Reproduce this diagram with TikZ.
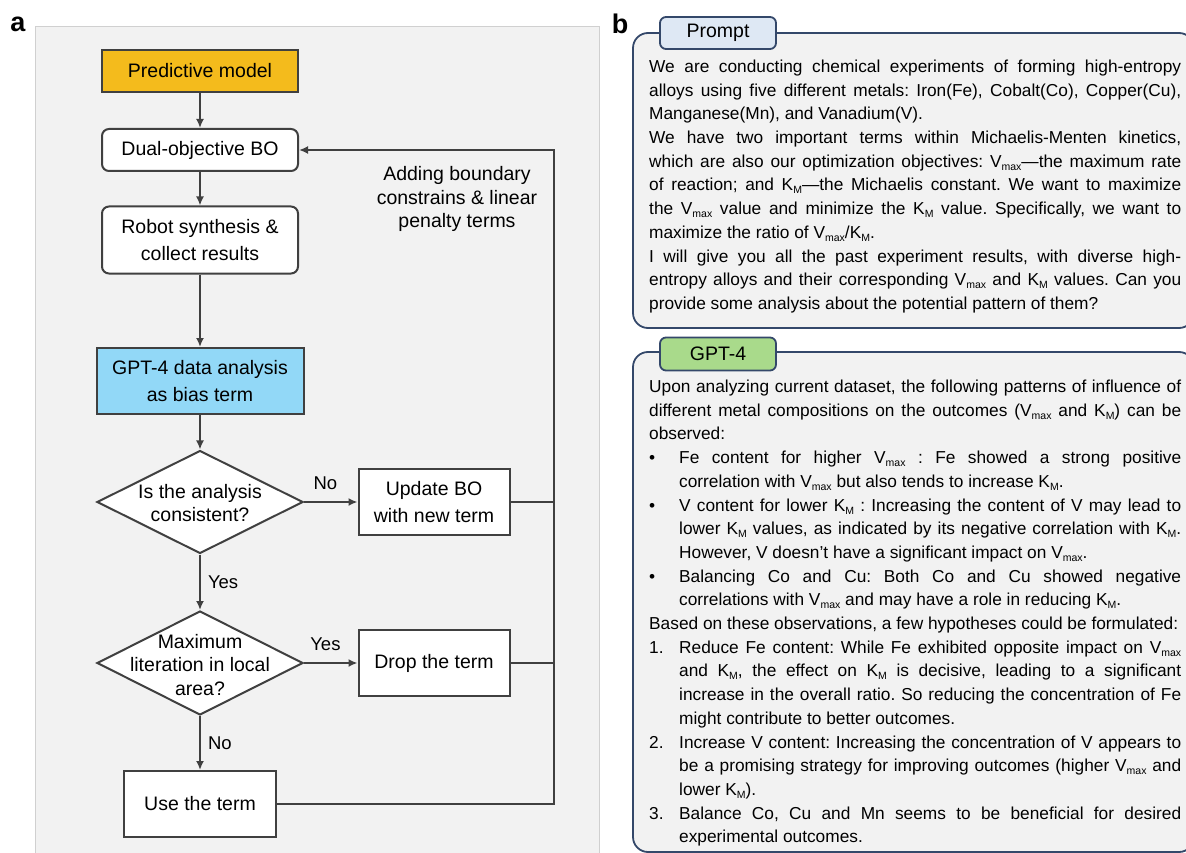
\documentclass[tikz,border=0pt]{standalone}
\usepackage{fontspec}
\setmainfont{Liberation Sans}
\usetikzlibrary{shapes.geometric,arrows.meta}

\definecolor{lineGray}{HTML}{404040}
\definecolor{panelGray}{HTML}{F2F2F2}
\definecolor{borderGray}{HTML}{D0D0D0}
\definecolor{modelGold}{HTML}{F4BB1C}
\definecolor{gptBlue}{HTML}{92D8F7}
\definecolor{tabBlue}{HTML}{DEE8F4}
\definecolor{tabGreen}{HTML}{A9DA8B}
\definecolor{frameNavy}{HTML}{34486A}

\newcommand{\subText}[1]{\raisebox{-3pt}{\fontsize{10.5}{10}\selectfont #1}}
\newcommand{\Vmax}{V\subText{max}}
\newcommand{\KM}{K\subText{M}}

\begin{document}
\begin{tikzpicture}[%%
  x=1pt,y=-1pt,%%
  boxStyle/.style={draw=lineGray,line width=2pt,fill=white,inner sep=0pt,%%
    align=center,font={\fontsize{19.5}{27}\selectfont}},%%
  roundStyle/.style={boxStyle,rounded corners=7pt},%%
  decisionStyle/.style={diamond,draw=lineGray,line width=2pt,fill=white,%%
    inner sep=0pt,minimum width=206pt,minimum height=103pt},%%
  decisionText/.style={align=center,inner sep=0pt,font={\fontsize{19.5}{23.5}\selectfont}},%%
  arrowStyle/.style={-{Latex[length=9pt,width=8pt]},line width=2pt,draw=lineGray},%%
  lineStyle/.style={-,line width=2pt,draw=lineGray},%%
  labelStyle/.style={inner sep=0pt,font={\fontsize{18.5}{22}\selectfont}},%%
  panelStyle/.style={draw=frameNavy,line width=1.8pt,fill=panelGray,rounded corners=15pt},%%
  tabStyle/.style={draw=frameNavy,line width=1.8pt,rounded corners=6pt,minimum width=116pt,%%
    inner sep=0pt,font={\fontsize{19.5}{23}\selectfont}},%%
  textStyle/.style={text width=532pt,align=justify,inner sep=0pt,anchor=base west,%%
    font={\fontsize{17.3}{23.7}\selectfont\frenchspacing\hyphenpenalty=10000\exhyphenpenalty=10000\tolerance=9999}}%%
]
%%
\useasboundingbox (0,0) rectangle (1186,853);
\clip (0,0) rectangle (1186,853);
%%
%% Panel a: the background.
\draw[fill=panelGray,draw=borderGray,line width=0.8pt] (35,26) rectangle (599,870);
\node[font={\fontsize{27}{30}\selectfont\bfseries}] (labelA) at (18,24) {a};
%%
%% The boxes of the loop.
\node[boxStyle,fill=modelGold,minimum width=196pt,minimum height=42pt] (pred) at (200,71) {Predictive model};
\node[roundStyle,minimum width=196pt,minimum height=42pt] (dual) at (200,150) {Dual-objective BO};
\node[roundStyle,minimum width=196pt,minimum height=67pt] (robot) at (200,240) {Robot synthesis \&\\collect results};
\node[boxStyle,fill=gptBlue,minimum width=207pt,minimum height=66pt] (gptBox) at (200,381) {GPT-4 data analysis\\as bias term};
\node[decisionStyle] (check) at (200,502) {};
\node[decisionText] (checkText) at (200,503) {Is the analysis\\consistent?};
\node[boxStyle,minimum width=151pt,minimum height=66pt] (update) at (434,502) {Update BO\\with new term};
\node[decisionStyle,minimum height=104pt] (maxIter) at (200,663) {};
\node[decisionText] (maxIterText) at (200,665) {Maximum\\literation in local\\area?};
\node[boxStyle,minimum width=151pt,minimum height=66pt] (drop) at (434,663) {Drop the term};
\node[boxStyle,minimum width=152pt,minimum height=66pt] (useTerm) at (200,804) {Use the term};
%%
%% Connectors down the middle.
\draw[arrowStyle] (pred) -- (dual);
\draw[arrowStyle] (dual) -- (robot);
\draw[arrowStyle] (robot) -- (gptBox);
\draw[arrowStyle] (gptBox) -- (check);
\draw[arrowStyle] (check) -- node[labelStyle,above=11pt,pos=0.4] {No} (update);
\draw[arrowStyle] (check) -- node[labelStyle,right=7pt] {Yes} (maxIter);
\draw[arrowStyle] (maxIter) -- node[labelStyle,above=11pt,pos=0.4] {Yes} (drop);
\draw[arrowStyle] (maxIter) -- node[labelStyle,right=7pt] {No} (useTerm);
%%
%% The feedback line on the right.
\coordinate (loopTop) at (554,150);
\draw[lineStyle] (update.east) -- (update.east -| loopTop);
\draw[lineStyle] (drop.east) -- (drop.east -| loopTop);
\draw[arrowStyle] (useTerm.east) -- (useTerm.east -| loopTop) -- (loopTop) -- (dual.east);
\node[decisionText] (penaltyNote) at (457,199) {Adding boundary\\constrains \& linear\\penalty terms};
%%
%% Panel b: prompt and answer.
\node[font={\fontsize{27}{30}\selectfont\bfseries}] (labelB) at (620,24) {b};
\draw[panelStyle] (633,33) rectangle (1194,328);
\node[tabStyle,fill=tabBlue,minimum height=32pt] (promptTab) at (718,33) {Prompt};
\node[textStyle] (promptText) at (649,72.5) {%%
We are conducting chemical experiments of forming high-entropy\linebreak
alloys using five different metals: Iron(Fe), Cobalt(Co), Copper(Cu),\linebreak
Manganese(Mn), and Vanadium(V).\par
We have two important terms within Michaelis-Menten kinetics,\linebreak
which are also our optimization objectives: \Vmax—the maximum rate\linebreak
of reaction; and \KM—the Michaelis constant. We want to maximize\linebreak
the \Vmax{} value and minimize the \KM{} value. Specifically, we want to\linebreak
maximize the ratio of \Vmax/\KM.\par
I will give you all the past experiment results, with diverse high-\linebreak
entropy alloys and their corresponding \Vmax{} and \KM{} values. Can you\linebreak
provide some analysis about the potential pattern of them?\par};
%%
\draw[panelStyle] (633,352) rectangle (1194,852);
\node[tabStyle,fill=tabGreen,minimum height=33pt] (gptTab) at (718,354) {GPT-4};
\node[textStyle] (gptText) at (649,392.5) {%%
Upon analyzing current dataset, the following patterns of influence of\linebreak
different metal compositions on the outcomes (\Vmax{} and \KM) can be\linebreak
observed:\par
\noindent\hangindent=30pt\hangafter=1\makebox[30pt][l]{\textbullet}Fe content for higher \Vmax{} : Fe showed a strong positive\linebreak
correlation with \Vmax{} but also tends to increase \KM.\par
\noindent\hangindent=30pt\hangafter=1\makebox[30pt][l]{\textbullet}V content for lower \KM{} : Increasing the content of V may lead to\linebreak
lower \KM{} values, as indicated by its negative correlation with \KM.\linebreak
However, V doesn't have a significant impact on \Vmax.\par
\noindent\hangindent=30pt\hangafter=1\makebox[30pt][l]{\textbullet}Balancing Co and Cu: Both Co and Cu showed negative\linebreak
correlations with \Vmax{} and may have a role in reducing \KM.\par
Based on these observations, a few hypotheses could be formulated:\par
\noindent\hangindent=30pt\hangafter=1\makebox[30pt][l]{1.}Reduce Fe content: While Fe exhibited opposite impact on \Vmax\linebreak
and \KM, the effect on \KM{} is decisive, leading to a significant\linebreak
increase in the overall ratio. So reducing the concentration of Fe\linebreak
might contribute to better outcomes.\par
\noindent\hangindent=30pt\hangafter=1\makebox[30pt][l]{2.}Increase V content: Increasing the concentration of V appears to\linebreak
be a promising strategy for improving outcomes (higher \Vmax{} and\linebreak
lower \KM).\par
\noindent\hangindent=30pt\hangafter=1\makebox[30pt][l]{3.}Balance Co, Cu and Mn seems to be beneficial for desired\linebreak
experimental outcomes.\par};
\end{tikzpicture}
\end{document}
